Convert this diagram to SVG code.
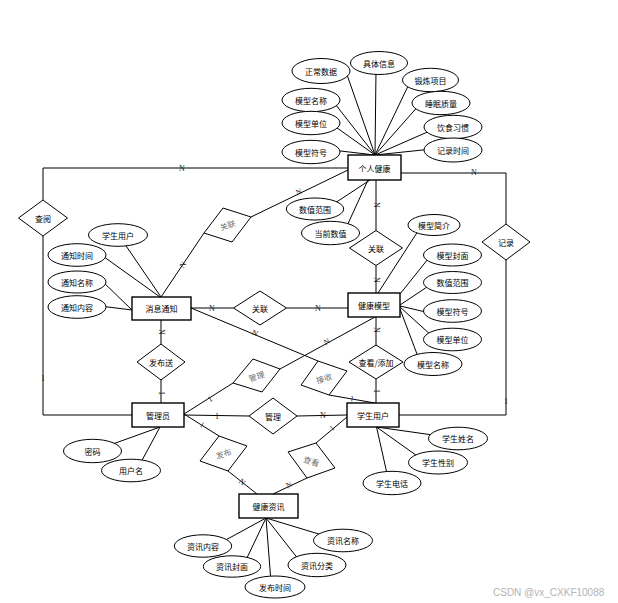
<svg xmlns="http://www.w3.org/2000/svg" width="618" height="603" viewBox="0 0 618 603">
<style>
.bg{fill:#fff}
.ln{stroke:#000;stroke-width:1;fill:none}
.ent{fill:#fff;stroke:#000;stroke-width:1.4}
.att{fill:#fff;stroke:#000;stroke-width:1}
.rel{fill:#fff;stroke:#000;stroke-width:1}
.t{font-family:"Noto Sans CJK SC","Liberation Sans",sans-serif;font-size:8px;fill:#000;text-anchor:middle;dominant-baseline:central}
.g{fill:#707070}
.c{font-family:"Liberation Serif",serif;font-size:8px;fill:#222;text-anchor:middle;dominant-baseline:central}
.wm{font-family:"Liberation Sans",sans-serif;font-size:10px;fill:#b4b4b4}
</style>
<rect class="bg" x="0" y="0" width="618" height="603"/>
<g id="connectors">
<polyline class="ln" points="348,168 43,168 43,200"/>
<polyline class="ln" points="43,236 43,415 132,415"/>
<polyline class="ln" points="401,173 506,173 506,224"/>
<polyline class="ln" points="506,260 506,415 399,415"/>
<line class="ln" x1="348" y1="170" x2="251" y2="217"/>
<line class="ln" x1="204" y1="233" x2="161" y2="297"/>
<line class="ln" x1="376" y1="180" x2="376" y2="230.5"/>
<line class="ln" x1="376" y1="265.5" x2="376" y2="293"/>
<line class="ln" x1="191" y1="308" x2="233.5" y2="308"/>
<line class="ln" x1="286.5" y1="308" x2="348" y2="308"/>
<line class="ln" x1="161" y1="320" x2="161" y2="344"/>
<line class="ln" x1="161" y1="380" x2="161" y2="403"/>
<line class="ln" x1="184" y1="415" x2="249" y2="416"/>
<line class="ln" x1="297" y1="416" x2="347" y2="415"/>
<line class="ln" x1="184" y1="414" x2="233" y2="383"/>
<line class="ln" x1="280" y1="369" x2="375" y2="317"/>
<line class="ln" x1="191" y1="308" x2="318" y2="361"/>
<line class="ln" x1="329" y1="395" x2="375" y2="403"/>
<line class="ln" x1="376" y1="403" x2="376" y2="379"/>
<line class="ln" x1="376" y1="345" x2="376" y2="317"/>
<line class="ln" x1="347" y1="417" x2="316" y2="443"/>
<line class="ln" x1="307" y1="478" x2="273" y2="494"/>
<line class="ln" x1="184" y1="414" x2="219" y2="436"/>
<line class="ln" x1="228" y1="471" x2="257" y2="494"/>
<!-- attribute links -->
<line class="ln" x1="375" y1="155" x2="345" y2="69"/>
<line class="ln" x1="375" y1="155" x2="376" y2="70"/>
<line class="ln" x1="375" y1="155" x2="410" y2="82"/>
<line class="ln" x1="375" y1="155" x2="420" y2="104"/>
<line class="ln" x1="375" y1="155" x2="432" y2="130"/>
<line class="ln" x1="375" y1="155" x2="432" y2="149"/>
<line class="ln" x1="375" y1="155" x2="332" y2="100"/>
<line class="ln" x1="375" y1="155" x2="333" y2="125"/>
<line class="ln" x1="375" y1="155" x2="332" y2="150"/>
<line class="ln" x1="370" y1="180" x2="332" y2="205"/>
<line class="ln" x1="368" y1="180" x2="346" y2="228"/>
<line class="ln" x1="378" y1="293" x2="420" y2="228"/>
<line class="ln" x1="400" y1="294" x2="432" y2="254"/>
<line class="ln" x1="400" y1="305" x2="430" y2="285"/>
<line class="ln" x1="400" y1="306" x2="430" y2="313"/>
<line class="ln" x1="400" y1="307" x2="432" y2="336"/>
<line class="ln" x1="400" y1="309" x2="420" y2="362"/>
<line class="ln" x1="161" y1="297" x2="122" y2="240"/>
<line class="ln" x1="160" y1="297" x2="100" y2="254"/>
<line class="ln" x1="132" y1="310" x2="100" y2="279"/>
<line class="ln" x1="132" y1="310" x2="100" y2="306"/>
<line class="ln" x1="160" y1="427" x2="110" y2="445"/>
<line class="ln" x1="160" y1="427" x2="140" y2="464"/>
<line class="ln" x1="376.5" y1="427" x2="440" y2="436"/>
<line class="ln" x1="376.5" y1="427" x2="420" y2="458"/>
<line class="ln" x1="376.5" y1="427" x2="388" y2="478"/>
<line class="ln" x1="266" y1="518" x2="222" y2="542"/>
<line class="ln" x1="266" y1="518" x2="245" y2="562"/>
<line class="ln" x1="266" y1="518" x2="271" y2="582"/>
<line class="ln" x1="266" y1="518" x2="299" y2="560"/>
<line class="ln" x1="266" y1="518" x2="322" y2="535"/>
<!-- cardinality labels -->
<text class="c" x="182" y="168">N</text>
<text class="c" x="43" y="378">1</text>
<text class="c" x="474" y="172.5">N</text>
<text class="c" x="506" y="401">1</text>
<text class="c" transform="translate(299,192) rotate(-26)">N</text>
<text class="c" transform="translate(183,265) rotate(-56)">N</text>
<text class="c" transform="translate(376,205) rotate(90)">N</text>
<text class="c" transform="translate(376,280) rotate(90)">N</text>
<text class="c" x="212" y="308">N</text>
<text class="c" x="318" y="308">N</text>
<text class="c" transform="translate(161,332) rotate(90)">N</text>
<text class="c" transform="translate(161,393) rotate(90)">1</text>
<text class="c" x="217" y="416">1</text>
<text class="c" x="323" y="415.5">N</text>
<text class="c" transform="translate(210,399) rotate(-32)">1</text>
<text class="c" transform="translate(327,342) rotate(-28)">N</text>
<text class="c" transform="translate(255,333) rotate(23)">N</text>
<text class="c" transform="translate(352,399) rotate(10)">1</text>
<text class="c" transform="translate(376,391) rotate(90)">1</text>
<text class="c" transform="translate(376,330) rotate(90)">N</text>
<text class="c" transform="translate(332,428) rotate(-40)">1</text>
<text class="c" transform="translate(289,485) rotate(-25)">N</text>
<text class="c" transform="translate(202,425) rotate(32)">1</text>
<text class="c" transform="translate(242,482) rotate(38)">N</text>
</g>
<g id="e-personal"><rect class="ent" x="348" y="155" width="53" height="25"/><text class="t" x="374.5" y="168">个人健康</text></g>
<g id="e-notice"><rect class="ent" x="132" y="297" width="59" height="23"/><text class="t" x="161.5" y="308.5">消息通知</text></g>
<g id="e-model"><rect class="ent" x="348" y="293" width="52" height="24"/><text class="t" x="374" y="305">健康模型</text></g>
<g id="e-admin"><rect class="ent" x="132" y="403" width="52" height="24"/><text class="t" x="158" y="415">管理员</text></g>
<g id="e-student"><rect class="ent" x="347" y="403" width="52" height="24"/><text class="t" x="373" y="415">学生用户</text></g>
<g id="e-news"><rect class="ent" x="239" y="494" width="59" height="24"/><text class="t" x="268.5" y="506">健康资讯</text></g>
<g id="r-chayue"><polygon class="rel" points="18.5,218 43,200 67.5,218 43,236"/><text class="t" x="43" y="218">查阅</text></g>
<g id="r-jilu"><polygon class="rel" points="482,242 506,224 530,242 506,260"/><text class="t" x="506" y="242">记录</text></g>
<g id="r-guanlian1"><polygon class="rel" points="223,208 251,217 232,242 204,233"/><text class="t g" transform="translate(227.5,225) rotate(-18)">关联</text></g>
<g id="r-guanlian2"><polygon class="rel" points="349.5,248 376,230.5 402.5,248 376,265.5"/><text class="t" x="376" y="248">关联</text></g>
<g id="r-guanlian3"><polygon class="rel" points="233.5,308 260,291 286.5,308 260,325"/><text class="t" x="260" y="308">关联</text></g>
<g id="r-fabusong"><polygon class="rel" points="137,362 161,344 185,362 161,380"/><text class="t" x="161" y="362">发布送</text></g>
<g id="r-guanli1"><polygon class="rel" points="249,416 273,398 297,416 273,434"/><text class="t" x="273" y="416">管理</text></g>
<g id="r-chakan-tianjia"><polygon class="rel" points="349,362 376,345 403,362 376,379"/><text class="t" x="376" y="362">查看/添加</text></g>
<g id="r-guanli2"><polygon class="rel" points="253,359 280,369 262,392 233,383"/><text class="t g" transform="translate(256.5,376) rotate(-17)">管理</text></g>
<g id="r-jieshou"><polygon class="rel" points="318,361 347,371 329,395 301,385"/><text class="t g" transform="translate(324,378) rotate(-17)">接收</text></g>
<g id="r-fabu"><polygon class="rel" points="219,436 247,446 228,471 200,461"/><text class="t g" transform="translate(223.5,453.5) rotate(-18)">发布</text></g>
<g id="r-chakan"><polygon class="rel" points="316,443 335,468 307,478 288,452"/><text class="t g" transform="translate(311.5,461) rotate(18)">查看</text></g>
<g id="a-zhengchang"><ellipse class="att" cx="321" cy="71" rx="29" ry="12.5"/><text class="t" x="321" y="71">正常数据</text></g>
<g id="a-juti"><ellipse class="att" cx="379" cy="63" rx="28.5" ry="11.5"/><text class="t" x="379" y="63">具体信息</text></g>
<g id="a-duanlian"><ellipse class="att" cx="430.5" cy="80" rx="28" ry="11.7"/><text class="t" x="430.5" y="80">锻炼项目</text></g>
<g id="a-shuimian"><ellipse class="att" cx="441" cy="103" rx="29" ry="11.7"/><text class="t" x="441" y="103">睡眠质量</text></g>
<g id="a-yinshi"><ellipse class="att" cx="453" cy="127" rx="29" ry="11.7"/><text class="t" x="453" y="127">饮食习惯</text></g>
<g id="a-jilushijian"><ellipse class="att" cx="453" cy="150" rx="29" ry="12"/><text class="t" x="453" y="150">记录时间</text></g>
<g id="a-mxmc1"><ellipse class="att" cx="311" cy="100" rx="29" ry="11.7"/><text class="t" x="311" y="100">模型名称</text></g>
<g id="a-mxdw1"><ellipse class="att" cx="311" cy="123" rx="29" ry="11.7"/><text class="t" x="311" y="123">模型单位</text></g>
<g id="a-mxfh1"><ellipse class="att" cx="311" cy="152" rx="29" ry="11.7"/><text class="t" x="311" y="152">模型符号</text></g>
<g id="a-szfw1"><ellipse class="att" cx="315" cy="209" rx="28.7" ry="11"/><text class="t" x="315" y="209">数值范围</text></g>
<g id="a-dqsz"><ellipse class="att" cx="330.5" cy="233" rx="29" ry="11.7"/><text class="t" x="330.5" y="233">当前数值</text></g>
<g id="a-mxjj"><ellipse class="att" cx="434" cy="225" rx="26" ry="10.5"/><text class="t" x="434" y="225">模型简介</text></g>
<g id="a-mxfm"><ellipse class="att" cx="452.5" cy="255" rx="29" ry="11"/><text class="t" x="452.5" y="255">模型封面</text></g>
<g id="a-szfw2"><ellipse class="att" cx="452.5" cy="282.5" rx="29" ry="11"/><text class="t" x="452.5" y="282.5">数值范围</text></g>
<g id="a-mxfh2"><ellipse class="att" cx="452.5" cy="311" rx="29" ry="11.3"/><text class="t" x="452.5" y="311">模型符号</text></g>
<g id="a-mxdw2"><ellipse class="att" cx="452.5" cy="339.5" rx="29" ry="11.3"/><text class="t" x="452.5" y="339.5">模型单位</text></g>
<g id="a-mxmc2"><ellipse class="att" cx="433" cy="364" rx="29" ry="11.5"/><text class="t" x="433" y="364">模型名称</text></g>
<g id="a-xsyh"><ellipse class="att" cx="118" cy="235" rx="29.5" ry="11.3"/><text class="t" x="118" y="235">学生用户</text></g>
<g id="a-tzsj"><ellipse class="att" cx="77" cy="255" rx="29" ry="11.3"/><text class="t" x="77" y="255">通知时间</text></g>
<g id="a-tzmc"><ellipse class="att" cx="77" cy="282" rx="29" ry="11"/><text class="t" x="77" y="282">通知名称</text></g>
<g id="a-tznr"><ellipse class="att" cx="77" cy="307" rx="29" ry="11.3"/><text class="t" x="77" y="307">通知内容</text></g>
<g id="a-mima"><ellipse class="att" cx="92.5" cy="451" rx="29" ry="11.7"/><text class="t" x="92.5" y="451">密码</text></g>
<g id="a-yhm"><ellipse class="att" cx="131" cy="470.5" rx="29.5" ry="11.3"/><text class="t" x="131" y="470.5">用户名</text></g>
<g id="a-xsxm"><ellipse class="att" cx="458" cy="438.5" rx="29.5" ry="11.3"/><text class="t" x="458" y="438.5">学生姓名</text></g>
<g id="a-xsxb"><ellipse class="att" cx="438" cy="462.5" rx="29.5" ry="11.5"/><text class="t" x="438" y="462.5">学生性别</text></g>
<g id="a-xsdh"><ellipse class="att" cx="392" cy="483" rx="29" ry="11.7"/><text class="t" x="392" y="483">学生电话</text></g>
<g id="a-zxnr"><ellipse class="att" cx="203" cy="546" rx="28.7" ry="11.2"/><text class="t" x="203" y="546">资讯内容</text></g>
<g id="a-zxfm"><ellipse class="att" cx="232" cy="566.5" rx="28.7" ry="10.7"/><text class="t" x="232" y="566.5">资讯封面</text></g>
<g id="a-fbsj"><ellipse class="att" cx="275" cy="587" rx="30" ry="11"/><text class="t" x="275" y="587">发布时间</text></g>
<g id="a-zxfl"><ellipse class="att" cx="317" cy="565" rx="29" ry="11.7"/><text class="t" x="317" y="565">资讯分类</text></g>
<g id="a-zxmc"><ellipse class="att" cx="343" cy="540.5" rx="29.5" ry="11.3"/><text class="t" x="343" y="540.5">资讯名称</text></g>
<text class="wm" x="493" y="596">CSDN @vx_CXKF10088</text>
</svg>
